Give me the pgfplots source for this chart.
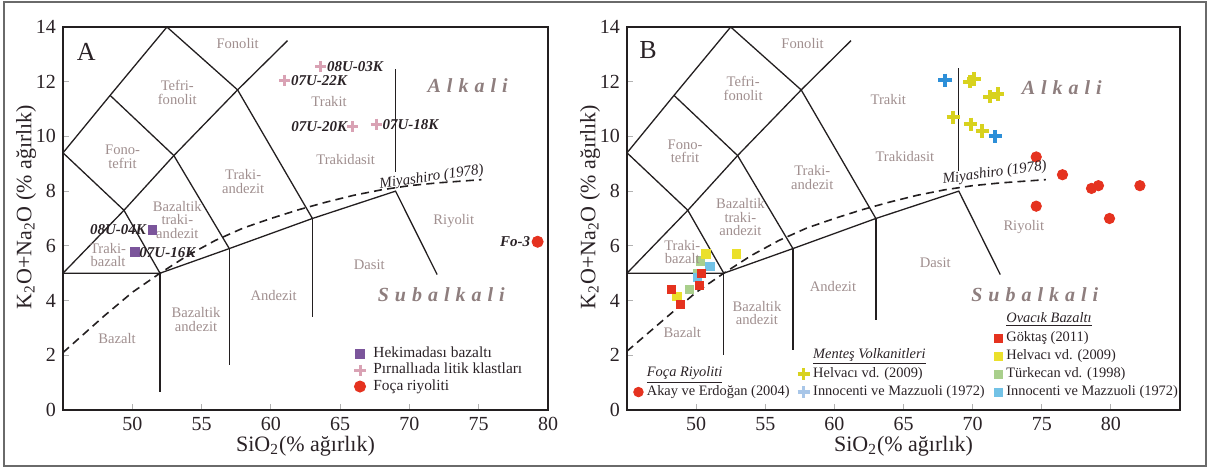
\documentclass[border=0pt]{standalone}
\usepackage{pgfplots}
\pgfplotsset{compat=1.18}
\usepackage{fontspec}
\setmainfont{Liberation Serif}
\definecolor{regc}{HTML}{A08F8F}
\definecolor{alkc}{HTML}{8E7E7E}
\definecolor{linec}{HTML}{231F20}
\definecolor{txtc}{HTML}{2A2226}
\definecolor{purA}{HTML}{7B559B}
\definecolor{pinkA}{HTML}{D9A2B4}
\definecolor{redc}{HTML}{E5321F}
\definecolor{yelsq}{HTML}{EBE02B}
\definecolor{grnsq}{HTML}{A9CF8C}
\definecolor{blusq}{HTML}{72C2E6}
\definecolor{yelcr}{HTML}{D8D21E}
\definecolor{blucr}{HTML}{2D8FD8}
\definecolor{blucrl}{HTML}{A8C6E8}
\definecolor{framec}{HTML}{6A6A6A}
\pgfplotsset{
  tasaxis/.style={
    scale only axis, height=191.5pt, xmin=45, ymin=0, ymax=14,
    ytick={0,2,...,14},
    tick align=inside, tick pos=left, major tick length=3pt,
    tick style={black!30, line width=0.6pt},
    axis line style={linec, line width=1.1pt},
    tick label style={font=\fontsize{10}{12}\selectfont, text=txtc},
    /pgf/number format/assume math mode=true,
    xlabel={SiO\textsubscript{2}(\% ağırlık)},
    ylabel={K\textsubscript{2}O+Na\textsubscript{2}O (\% ağırlık)},
    label style={font=\fontsize{11}{13}\selectfont, text=txtc},
    clip mode=individual,
  },
  tas/.style={linec, line width=0.65pt, forget plot, mark=none},
  miy/.style={linec, line width=0.8pt, dash pattern=on 4pt off 2.6pt, forget plot, mark=none},
  smallimg/.style={legend image code/.code={\draw[mark repeat=2,mark phase=2,##1] plot coordinates {(0cm,0cm)(0.13cm,0cm)(0.26cm,0cm)};}},
}
\tikzset{
  reg/.style={font=\fontsize{7.3}{6.8}\selectfont, text=regc, align=center, inner sep=0pt},
  alk/.style={font=\fontsize{10}{12}\selectfont\bfseries\itshape, text=alkc, inner sep=0pt},
  dlab/.style={font=\fontsize{7.5}{9}\selectfont\bfseries\itshape, text=txtc, inner sep=0.5pt},
  miylab/.style={font=\fontsize{7.5}{9}\selectfont\itshape, text=txtc, rotate=8, inner sep=0pt},
}
\newcommand{\lsp}{\hspace{3pt}}
\newcommand{\hdr}[1]{\raisebox{0.8pt}{\underline{\textit{#1}}}}
\begin{document}
\begin{tikzpicture}
\path[use as bounding box] (0,0) rectangle (604.5pt,234.5pt);
\draw[framec, line width=0.8pt] (2pt,1.5pt) rectangle (603pt,233.5pt);

% ---------------- Panel A ----------------
\begin{axis}[tasaxis, at={(31.5pt,29.5pt)}, anchor=south west, width=242.5pt,
  xmax=80, xtick={50,55,...,80},
  xlabel style={at={(axis description cs:0.5,-0.095)}, anchor=center},
  ylabel style={at={(axis description cs:-0.0763,0.53)}, anchor=center},
  legend style={at={(axis cs:66.0,0.565)}, anchor=south west, draw=none, fill=none, inner sep=0pt,
    font=\fontsize{7.7}{9}\selectfont, text=txtc, row sep=0.6pt,
    nodes={inner sep=0.3pt, text height=5.4pt, text depth=1.6pt},
    /tikz/every odd column/.append style={column sep=3.6pt}},
  legend cell align=left]
\addplot[tas] coordinates {(45,9.4)(48.4,11.5)(52.5,14)(57.6,11.7)(63,7)};
\addplot[tas] coordinates {(45,9.4)(49.4,7.3)(52,5)};
\addplot[tas] coordinates {(48.4,11.5)(53,9.3)(57,5.9)};
\addplot[tas] coordinates {(49.4,7.3)(53,9.3)(57.6,11.7)(61.2,13.5)};
\addplot[tas] coordinates {(45,5)(49.4,7.3)};
\addplot[tas] coordinates {(45,5)(52,5)(57,5.9)(63,7)(69,8)(72,4.95)};
\addplot[tas] coordinates {(52,5)(52,0.65)};
\addplot[tas] coordinates {(57,5.9)(57,1.65)};
\addplot[tas] coordinates {(63,7)(63,3.4)};
\addplot[tas] coordinates {(69,8.7)(69,12.45)};
\addplot[miy] coordinates {(45,2.1)(48,3.45)(50,4.3)(52,5.0)(54,5.65)(56,6.2)(58,6.65)(60,7.0)(62,7.32)(64,7.6)(66,7.85)(68,8.05)(70,8.2)(72,8.3)(75.2,8.42)};
\addplot[only marks, mark=square*, mark size=2.2pt, color=purA, smallimg] coordinates {(51.45,6.58)(50.2,5.77)};
\addlegendentry{Hekimadası bazaltı}
\addplot[only marks, mark=+, mark size=2.8pt, line width=1.5pt, color=pinkA, smallimg] coordinates {(63.6,12.55)(61.0,12.05)(65.9,10.35)(67.6,10.45)};
\addlegendentry{Pırnallıada litik klastları}
\addplot[only marks, mark=*, mark size=2.8pt, color=redc, smallimg] coordinates {(79.25,6.15)};
\addlegendentry{Foça riyoliti}
% region labels
\node[reg] at (axis cs:57.6,13.4) {Fonolit};
\node[reg] at (axis cs:53.25,11.6) {Tefri-\\fonolit};
\node[reg] at (axis cs:49.3,9.25) {Fono-\\tefrit};
\node[reg] at (axis cs:58.0,8.35) {Traki-\\andezit};
\node[reg] at (axis cs:53.25,6.95) {Bazaltik\\traki-\\andezit};
\node[reg] at (axis cs:48.25,5.67) {Traki-\\bazalt};
\node[reg] at (axis cs:48.9,2.63) {Bazalt};
\node[reg] at (axis cs:54.6,3.3) {Bazaltik\\andezit};
\node[reg] at (axis cs:60.2,4.2) {Andezit};
\node[reg] at (axis cs:67.1,5.3) {Dasit};
\node[reg] at (axis cs:73.2,6.9) {Riyolit};
\node[reg] at (axis cs:65.4,9.15) {Trakidasit};
\node[reg] at (axis cs:64.2,11.27) {Trakit};
\node[alk] at (axis cs:74.2,11.84) {A\lsp l\lsp k\lsp a\lsp l\lsp i};
\node[alk] at (axis cs:72.3,4.2) {S\lsp u\lsp b\lsp a\lsp l\lsp k\lsp a\lsp l\lsp i};
\node[miylab] at (axis cs:71.6,8.5) {Miyashiro (1978)};
\node[font=\fontsize{13}{15}\selectfont, text=txtc] at (axis cs:46.67,13.1) {A};
% data labels
\node[dlab, anchor=west, xshift=2.5pt] at (axis cs:63.6,12.55) {08U-03K};
\node[dlab, anchor=west, xshift=2.5pt] at (axis cs:61.0,12.05) {07U-22K};
\node[dlab, anchor=east, xshift=-2pt] at (axis cs:65.9,10.35) {07U-20K};
\node[dlab, anchor=west, xshift=2.5pt] at (axis cs:67.6,10.45) {07U-18K};
\node[dlab, anchor=east, xshift=-2.5pt] at (axis cs:51.45,6.58) {08U-04K};
\node[dlab, anchor=west, xshift=1.5pt] at (axis cs:50.2,5.77) {07U-16K};
\node[dlab, anchor=east, xshift=-3pt] at (axis cs:79.25,6.15) {Fo-3};
\end{axis}

% ---------------- Panel B ----------------
\begin{axis}[tasaxis, at={(313.5pt,29.5pt)}, anchor=south west, width=276.5pt,
  xmax=85, xtick={50,55,...,80},
  xlabel style={at={(axis description cs:0.5,-0.095)}, anchor=center},
  ylabel style={at={(axis description cs:-0.0669,0.53)}, anchor=center},
  legend columns=3,
  legend style={at={(rel axis cs:0.998,0.027)}, anchor=south east, draw=none, fill=none, inner sep=0pt,
    font=\fontsize{7.2}{8.6}\selectfont, text=txtc, row sep=1.8pt,
    nodes={inner sep=0.3pt, text height=5.1pt, text depth=1.5pt},
    /tikz/every odd column/.append style={column sep=1.5pt},
    /tikz/every even column/.append style={column sep=3pt}},
  legend cell align=left]
\addplot[tas] coordinates {(45,9.4)(48.4,11.5)(52.5,14)(57.6,11.7)(63,7)};
\addplot[tas] coordinates {(45,9.4)(49.4,7.3)(52,5)};
\addplot[tas] coordinates {(48.4,11.5)(53,9.3)(57,5.9)};
\addplot[tas] coordinates {(49.4,7.3)(53,9.3)(57.6,11.7)(61.2,13.5)};
\addplot[tas] coordinates {(45,5)(49.4,7.3)};
\addplot[tas] coordinates {(45,5)(52,5)(57,5.9)(63,7)(69,8)(72,4.95)};
\addplot[tas] coordinates {(52,5)(52,2.0)};
\addplot[tas] coordinates {(57,5.9)(57,2.2)};
\addplot[tas] coordinates {(63,7)(63,3.3)};
\addplot[tas] coordinates {(69,8.75)(69,12.5)};
\addplot[miy] coordinates {(45,2.15)(48,3.45)(50,4.3)(52,5.0)(54,5.65)(56,6.2)(58,6.65)(60,7.0)(62,7.32)(64,7.6)(66,7.85)(68,8.05)(70,8.2)(72,8.3)(75.3,8.42)};
% data
\addplot[only marks, mark=square*, mark size=2.1pt, color=grnsq, forget plot] coordinates {(49.5,4.4)(50.3,5.45)(50.1,5.0)};
\addplot[only marks, mark=square*, mark size=2.1pt, color=blusq, forget plot] coordinates {(51.0,5.25)(50.1,4.85)};
\addplot[only marks, mark=square*, mark size=2.1pt, color=yelsq, forget plot] coordinates {(48.6,4.15)(50.7,5.7)(52.9,5.7)};
\addplot[only marks, mark=square*, mark size=2.1pt, color=redc, forget plot] coordinates {(48.2,4.4)(48.85,3.85)(50.25,4.55)(50.4,5.0)};
\addplot[only marks, mark=+, mark size=3.3pt, line width=2pt, color=yelcr, forget plot] coordinates {(69.8,12.0)(70.1,12.1)(71.25,11.45)(71.8,11.55)(68.6,10.7)(69.85,10.45)(70.7,10.2)};
\addplot[only marks, mark=+, mark size=3.3pt, line width=2pt, color=blucr, forget plot] coordinates {(68.0,12.05)(71.65,10.0)};
\addplot[only marks, mark=*, mark size=2.6pt, color=redc, forget plot] coordinates {(74.6,9.25)(76.5,8.6)(78.6,8.1)(79.1,8.2)(82.1,8.2)(74.6,7.45)(79.9,7.0)};
% legend
\addlegendimage{empty legend}\addlegendentry{}
\addlegendimage{empty legend}\addlegendentry{}
\addlegendimage{empty legend}\addlegendentry{\hdr{Ovacık Bazaltı}}
\addlegendimage{empty legend}\addlegendentry{}
\addlegendimage{empty legend}\addlegendentry{}
\addlegendimage{only marks, mark=square*, mark size=2pt, redc, smallimg}\addlegendentry{Göktaş (2011)}
\addlegendimage{empty legend}\addlegendentry{}
\addlegendimage{empty legend}\addlegendentry{\hdr{Menteş Volkanitleri}}
\addlegendimage{only marks, mark=square*, mark size=2pt, yelsq, smallimg}\addlegendentry{Helvacı vd. (2009)}
\addlegendimage{empty legend}\addlegendentry{\hdr{Foça Riyoliti}}
\addlegendimage{only marks, mark=+, mark size=3pt, line width=1.8pt, yelcr, smallimg}\addlegendentry{Helvacı vd. (2009)}
\addlegendimage{only marks, mark=square*, mark size=2pt, grnsq, smallimg}\addlegendentry{Türkecan vd. (1998)}
\addlegendimage{only marks, mark=*, mark size=2.4pt, redc, smallimg}\addlegendentry{Akay ve Erdoğan (2004)}
\addlegendimage{only marks, mark=+, mark size=3pt, line width=1.8pt, blucrl, smallimg}\addlegendentry{Innocenti ve Mazzuoli (1972)}
\addlegendimage{only marks, mark=square*, mark size=2pt, blusq, smallimg}\addlegendentry{Innocenti ve Mazzuoli (1972)}
% region labels
\node[reg] at (axis cs:57.7,13.4) {Fonolit};
\node[reg] at (axis cs:53.4,11.75) {Tefri-\\fonolit};
\node[reg] at (axis cs:49.2,9.45) {Fono-\\tefrit};
\node[reg] at (axis cs:58.4,8.5) {Traki-\\andezit};
\node[reg] at (axis cs:53.2,7.05) {Bazaltik\\traki-\\andezit};
\node[reg] at (axis cs:49.0,5.77) {Traki-\\bazalt};
\node[reg] at (axis cs:49.0,2.85) {Bazalt};
\node[reg] at (axis cs:54.4,3.55) {Bazaltik\\andezit};
\node[reg] at (axis cs:59.9,4.5) {Andezit};
\node[reg] at (axis cs:67.3,5.4) {Dasit};
\node[reg] at (axis cs:73.7,6.7) {Riyolit};
\node[reg] at (axis cs:65.1,9.25) {Trakidasit};
\node[reg] at (axis cs:63.9,11.35) {Trakit};
\node[alk] at (axis cs:76.45,11.8) {A\lsp l\lsp k\lsp a\lsp l\lsp i};
\node[alk] at (axis cs:74.5,4.2) {S\lsp u\lsp b\lsp a\lsp l\lsp k\lsp a\lsp l\lsp i};
\node[miylab] at (axis cs:71.6,8.66) {Miyashiro (1978)};
\node[font=\fontsize{13}{15}\selectfont, text=txtc] at (axis cs:46.52,13.16) {B};
\end{axis}
\end{tikzpicture}
\end{document}
